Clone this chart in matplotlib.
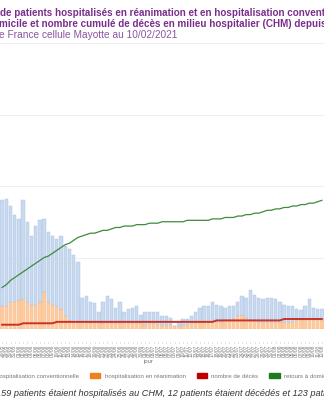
import matplotlib
matplotlib.use("Agg")
import matplotlib.pyplot as plt
import numpy as np
import pandas as pd
from matplotlib.patches import Patch

plt.rcParams['font.family'] = ['Liberation Sans', 'DejaVu Sans']

# donnees (jour par jour)
jours = pd.date_range("2020-05-28", periods=77, freq="D")
hospit_conv = [74, 75, 67, 61, 57, 69, 56, 48, 55, 57, 51, 49, 48, 47, 51, 49, 50, 47, 42,
               17, 18, 15, 13, 8, 15, 18, 17, 11, 15, 7, 10, 11, 12, 6, 9, 8, 8, 9, 6, 6, 5,
               0, 3, 4, 4,
               5, 8, 10, 11, 11, 14, 12, 11, 9, 10,
               9, 10, 13, 14,
               21, 18, 17, 16, 17, 17, 16, 14, 12, 11, 11, 8, 7, 10, 15, 9, 8, 8]
hospit_rea = [16, 16, 19, 19, 20, 21, 19, 17, 17, 19, 26, 19, 17, 16, 14, 9, 6, 5, 5,
              5, 5, 4, 5, 4, 4, 5, 4, 4, 4, 5, 4, 4, 4, 4, 3, 4, 4, 3, 3, 3, 3,
              2, 2, 3, 3,
              4, 4, 5, 5, 5, 5, 5, 5, 6, 6,
              7, 9, 10, 8,
              6, 6, 5, 5, 5, 5, 5, 5, 5, 5, 5, 6, 6, 6, 6, 6, 6, 6]
deces = [3, 3, 3, 3, 3,
         4, 4, 4, 4, 4, 4, 4, 4,
         5, 5, 5, 5, 5, 5, 5, 5, 5, 5, 5, 5, 5, 5, 5, 5, 5, 5, 5, 5, 5, 5, 5, 5, 5,
         5, 5, 5, 5, 5, 5, 5, 5, 5, 5, 5, 5, 5,
         6, 6, 6, 6, 6, 6, 6, 6, 6, 6, 6, 6, 6, 6, 6, 6,
         7, 7, 7, 7, 7, 7, 7, 7, 7, 7]
retours = [29, 31, 34, 36, 38, 40, 42, 44, 46, 48, 50, 51, 53, 55, 57, 59, 60, 62, 64,
           65, 66, 67, 67, 68, 69, 69, 70, 71, 71, 72, 72, 72, 73, 73, 73, 74, 74, 74,
           75, 75, 75, 75, 75, 75, 76, 76, 76, 76, 76, 76, 77, 77, 77, 78, 78, 78, 79,
           79, 80, 80, 81, 81, 82, 83, 83, 84, 84, 85, 85, 86, 86, 87, 87, 88, 88, 89, 90]
labels = [d.strftime("%d/%m") for d in jours]

c_conv = '#c9daf0'
c_rea = '#fdcba0'
c_deces = '#c8322b'
c_retours = '#3d8b3d'

fig = plt.figure(figsize=(3.24, 4.0), dpi=100)
ax = fig.add_axes([0.0, 0.1775, 1.0, 0.715])

x = np.arange(len(jours))
ax.bar(x, hospit_rea, width=0.8, color=c_rea, edgecolor='#f6b98a', linewidth=0.3)
ax.bar(x, hospit_conv, bottom=hospit_rea, width=0.8, color=c_conv,
       edgecolor='#aac1e0', linewidth=0.3)
ax.plot(x, deces, color=c_deces, lw=1.4)
ax.plot(x, retours, color=c_retours, lw=0.9)

ax.set_xlim(-0.5, len(jours) - 0.5)
ax.set_ylim(0, 200)
ax.set_yticks([0, 50, 100, 150, 200])
ax.set_yticklabels([])
ax.tick_params(axis='y', length=0)
ax.grid(axis='y', color='#ececec', lw=0.6)
ax.set_axisbelow(True)
for s in ax.spines.values():
    s.set_visible(False)
ax.spines['bottom'].set_position(('outward', 9.5))
ax.set_xticks(x)
ax.set_xticklabels(labels, rotation=90, fontsize=3.5, color='#777777')
ax.tick_params(axis='x', length=1.0, width=0.5, color='#aaaaaa', pad=0.8)

fig.text(0.457, 0.0975, "jour", ha='center', va='center', fontsize=4.2, color='#777777')

handles = [Patch(color='#9dbbe3', label='hospitalisation conventionnelle'),
           Patch(color='#f0821e', label='hospitalisation en réanimation'),
           Patch(color='#c00000', label='nombre de décès'),
           Patch(color='#1e7a1e', label='retours à domicile')]
fig.legend(handles=handles, loc='center', bbox_to_anchor=(0.484, 0.06), ncol=4,
           frameon=False, fontsize=4.4, handlelength=1.65, handleheight=0.7,
           handletextpad=0.75, columnspacing=1.8, labelcolor='#777777')

fig.text(-0.012, 0.016,
         "159 patients étaient hospitalisés au CHM, 12 patients étaient décédés et 123 patients étaient retournés à domicile",
         ha='left', va='center', fontsize=6.6, style='italic', color='#333333')

fig.text(0.0, 0.9675,
         "de patients hospitalisés en réanimation et en hospitalisation conventionnelle,",
         ha='left', va='center', fontsize=7.1, fontweight='bold', color='#7a2e8c')
fig.text(-0.003, 0.939,
         "micile et nombre cumulé de décès en milieu hospitalier (CHM) depuis le début",
         ha='left', va='center', fontsize=7.1, fontweight='bold', color='#7a2e8c')
fig.text(-0.003, 0.9125, "e France cellule Mayotte au 10/02/2021",
         ha='left', va='center', fontsize=7.3, color='#8a55a0')

fig.savefig("out.png", dpi=100)
